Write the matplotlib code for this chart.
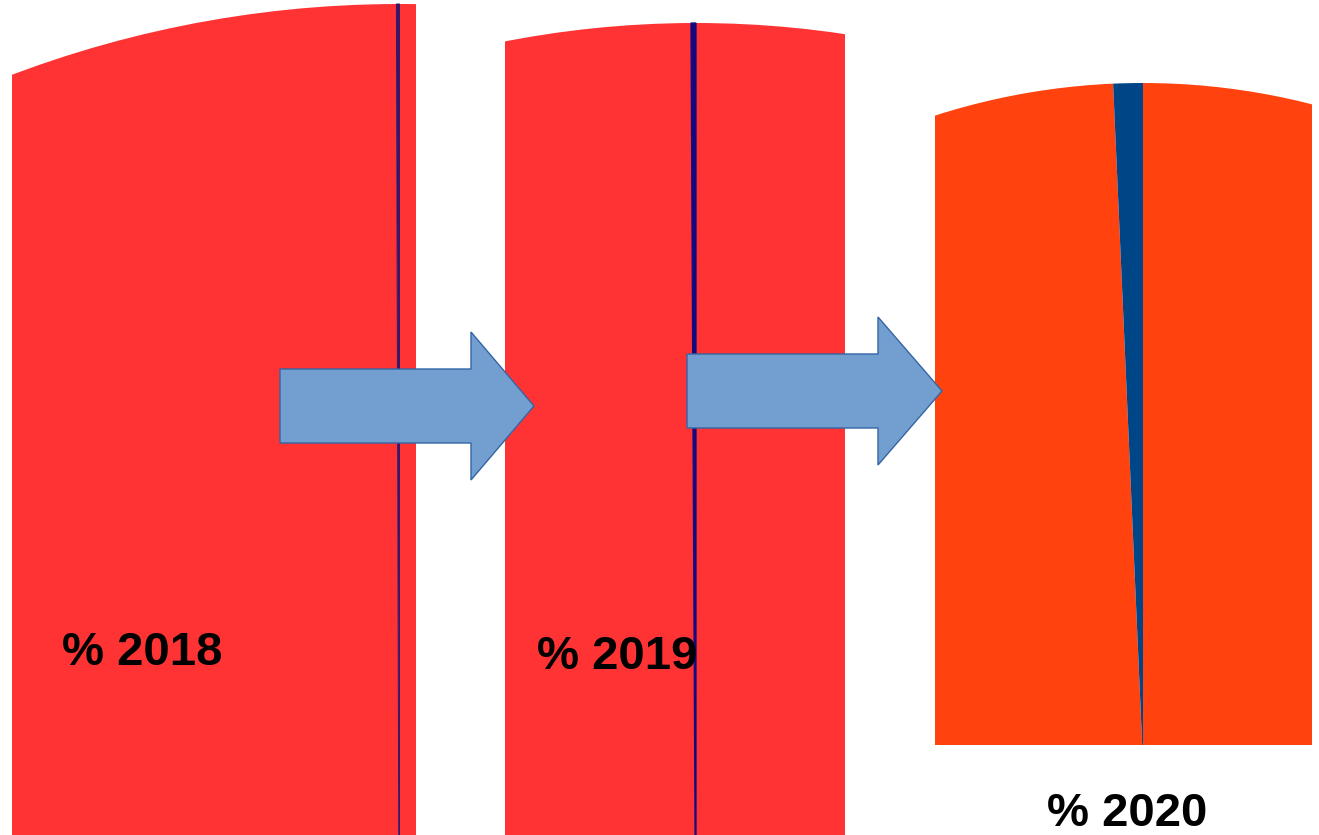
import matplotlib
matplotlib.use("Agg")
import matplotlib.pyplot as plt
from matplotlib.patches import Polygon

# ---- data (shares in %) ----
years = ["2018", "2019", "2020"]
labels = ["% 2018", "% 2019", "% 2020"]
blue_share = [0.045, 0.08, 0.70]
red_share = [99.955, 99.92, 99.30]
red_colors = ["#FF3333", "#FF3333", "#FF420E"]
blue_colors = ["#3A1466", "#14087E", "#004586"]

# ---- layout (pixels of a 1319x835 canvas) ----
W, H = 1319, 835
# panel crop: x0, x1, y_top(px), y_bottom(px); pie centre (px) and radius (px)
panels = [
    dict(x0=12, x1=416, yt=0, yb=835, cx=399.5, cy=1100, r=1096, lw=0.7),
    dict(x0=505, x1=845, yt=0, yb=835, cx=696, cy=1023, r=1000, lw=0.9),
    dict(x0=935, x1=1312, yt=0, yb=745, cx=1143, cy=763, r=680, lw=0.0),
]
text_pos = [(62, 665), (537, 669), (1047, 826)]
arrows = [
    dict(x0=280, xh=471, xt=534, yc=406, bh=37, hh=74),
    dict(x0=687, xh=878, xt=942, yc=391, bh=37, hh=74),
]

fig = plt.figure(figsize=(W / 100, H / 100), dpi=100)
fig.patch.set_facecolor("white")

for i, p in enumerate(panels):
    ax = fig.add_axes([p["x0"] / W, (H - p["yb"]) / H,
                       (p["x1"] - p["x0"]) / W, (p["yb"] - p["yt"]) / H])
    wedges, _ = ax.pie([blue_share[i], red_share[i]],
                       colors=[blue_colors[i], red_colors[i]],
                       startangle=90, counterclock=True,
                       center=(p["cx"], H - p["cy"]), radius=p["r"],
                       wedgeprops=dict(linewidth=0, antialiased=True))
    ax.set_aspect("auto")
    ax.set_xlim(p["x0"], p["x1"])
    ax.set_ylim(H - p["yb"], H - p["yt"])
    ax.axis("off")
    # draw order: red first, blue on top
    wedges[1].set_zorder(1)
    wedges[0].set_zorder(2)
    if p["lw"] > 0:
        wedges[0].set_edgecolor(blue_colors[i])
        wedges[0].set_linewidth(p["lw"])
    for w in wedges:
        w.set_clip_on(True)
        w.set_clip_path(ax.patch)

ov = fig.add_axes([0, 0, 1, 1])
ov.set_xlim(0, W)
ov.set_ylim(H, 0)
ov.axis("off")
ov.patch.set_alpha(0)

for a in arrows:
    pts = [(a["x0"], a["yc"] - a["bh"]), (a["xh"], a["yc"] - a["bh"]),
           (a["xh"], a["yc"] - a["hh"]), (a["xt"], a["yc"]),
           (a["xh"], a["yc"] + a["hh"]), (a["xh"], a["yc"] + a["bh"]),
           (a["x0"], a["yc"] + a["bh"])]
    ov.add_patch(Polygon(pts, closed=True, facecolor="#729FCF",
                         edgecolor="#3465A4", linewidth=1.0))

for lab, (tx, ty) in zip(labels, text_pos):
    ov.text(tx, ty, lab, fontsize=34, fontweight="bold",
            family=["Liberation Sans", "DejaVu Sans"], color="black",
            ha="left", va="baseline")

fig.savefig("out.png", dpi=100)
